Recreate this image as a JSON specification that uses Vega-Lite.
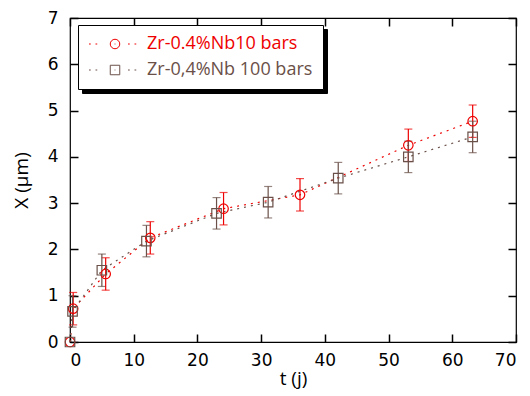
{
  "$schema": "https://vega.github.io/schema/vega-lite/v6.json",
  "width": 446,
  "height": 324,
  "autosize": {"type": "none"},
  "padding": {"left": 70, "top": 18, "right": 14, "bottom": 54},
  "background": "white",
  "config": {
    "view": {"stroke": "black", "strokeWidth": 1.2},
    "axis": {
      "grid": false,
      "domain": false,
      "ticks": true,
      "offset": -8,
      "tickColor": "black",
      "tickOpacity": 1,
      "tickSize": 8,
      "tickWidth": 1.5,
      "labelFont": "DejaVu Sans",
      "labelFontSize": 17,
      "labelColor": "black",
      "titleFont": "Open Sans",
      "titleFontSize": 19,
      "titleFontWeight": "normal",
      "titleColor": "black"
    }
  },
  "data": {
    "values": [
      {"series": "Zr-0.4%Nb10 bars", "k": "a", "g": "A", "t": 0, "x": 0, "lo": null, "hi": null},
      {"series": "Zr-0.4%Nb10 bars", "k": "a", "g": "A", "t": 0.5, "x": 0.72, "lo": 0.37, "hi": 1.07},
      {"series": "Zr-0.4%Nb10 bars", "k": "a", "g": "A", "t": 5.6, "x": 1.47, "lo": 1.12, "hi": 1.82},
      {"series": "Zr-0.4%Nb10 bars", "k": "a", "g": "A", "t": 12.6, "x": 2.25, "lo": 1.9, "hi": 2.6},
      {"series": "Zr-0.4%Nb10 bars", "k": "a", "g": "A", "t": 24.1, "x": 2.88, "lo": 2.53, "hi": 3.23},
      {"series": "Zr-0.4%Nb10 bars", "k": "a", "g": "A", "t": 36.1, "x": 3.18, "lo": 2.83, "hi": 3.53},
      {"series": "Zr-0.4%Nb10 bars", "k": "a", "g": "A", "t": 53.1, "x": 4.25, "lo": 3.9, "hi": 4.6},
      {"series": "Zr-0.4%Nb10 bars", "k": "a", "g": "A", "t": 63.2, "x": 4.77, "lo": 4.42, "hi": 5.12},
      {"series": "\u00a0Zr-0,4%Nb 100 bars", "k": "b", "g": "B", "t": 0, "x": 0, "lo": null, "hi": null},
      {"series": "\u00a0Zr-0,4%Nb 100 bars", "k": "b", "g": "B", "t": 0.4, "x": 0.66, "lo": 0.32, "hi": 1.0},
      {"series": "\u00a0Zr-0,4%Nb 100 bars", "k": "b", "g": "B", "t": 5.0, "x": 1.55, "lo": 1.2, "hi": 1.9},
      {"series": "\u00a0Zr-0,4%Nb 100 bars", "k": "b", "g": "B", "t": 12.0, "x": 2.18, "lo": 1.84, "hi": 2.52},
      {"series": "\u00a0Zr-0,4%Nb 100 bars", "k": "b", "g": "B", "t": 23.0, "x": 2.78, "lo": 2.44, "hi": 3.12},
      {"series": "\u00a0Zr-0,4%Nb 100 bars", "k": "b", "g": "B", "t": 31.1, "x": 3.02, "lo": 2.68, "hi": 3.36},
      {"series": "\u00a0Zr-0,4%Nb 100 bars", "k": "b", "g": "B", "t": 42.1, "x": 3.54, "lo": 3.2, "hi": 3.88},
      {"series": "\u00a0Zr-0,4%Nb 100 bars", "k": "b", "g": "B", "t": 53.1, "x": 4.0, "lo": 3.66, "hi": 4.34},
      {"series": "\u00a0Zr-0,4%Nb 100 bars", "k": "b", "g": "B", "t": 63.2, "x": 4.43, "lo": 4.09, "hi": 4.77}
    ]
  },
  "layer": [
    {
      "mark": {"type": "line", "strokeDash": [2, 5], "strokeWidth": 1.2},
      "encoding": {
        "x": {"field": "t", "type": "quantitative", "scale": {"domain": [0, 70], "nice": false},
          "axis": {"orient": "bottom", "values": [0, 10, 20, 30, 40, 50, 60, 70], "title": "t (j)", "labelPadding": 10, "titlePadding": 1}},
        "y": {"field": "x", "type": "quantitative", "scale": {"domain": [0, 7], "nice": false},
          "axis": {"orient": "left", "values": [0, 1, 2, 3, 4, 5, 6, 7], "title": "X (μm)", "labelPadding": 12, "titlePadding": 16}},
        "stroke": {"field": "g", "type": "nominal",
          "scale": {"domain": ["A", "B"], "range": ["#ee0000", "#6a5048"]},
          "legend": {
            "orient": "none", "legendX": 12, "legendY": 11, "title": null,
            "fillColor": "black", "strokeColor": "black", "padding": 10, "rowPadding": 8,
            "symbolSize": 100, "symbolOffset": 18, "labelOffset": 23, "labelLimit": 400,
            "labelFont": "Open Sans", "labelFontSize": 18, "labelColor": "black",
            "labelExpr": "datum.value == 'A' ? 'Zr-0.4%Nb10 bars' : '\u00a0Zr-0,4%Nb 100 bars'",
            "encode": {
              "symbols": {"update": {
                "shape": {"signal": "datum.value == 'A' ? 'M-5.2,0h0.35M-3.9,0h0.35M0.95,0A0.95,0.95,0,1,1,-0.95,0A0.95,0.95,0,1,1,0.95,0M2.6,0h0.35M3.9,0h0.35' : 'M-5.2,0h0.35M-3.9,0h0.35M-0.95,-0.95h1.9v1.9h-1.9ZM2.6,0h0.35M3.9,0h0.35'"},
                "stroke": {"value": "black"}, "fill": {"value": "transparent"}, "strokeWidth": {"value": 1}, "strokeDash": {"value": []}
              }}
            }
          }},
        "opacity": {"field": "k", "type": "nominal",
          "scale": {"domain": ["a", "b"], "range": [1, 1]},
          "legend": {
            "orient": "none", "legendX": 8, "legendY": 7, "title": null,
            "fillColor": "white", "strokeColor": "black", "padding": 10, "rowPadding": 8,
            "symbolSize": 100, "symbolOffset": 18, "labelOffset": 23, "labelLimit": 400,
            "labelFont": "Open Sans", "labelFontSize": 18,
            "labelExpr": "datum.value == 'a' ? 'Zr-0.4%Nb10 bars' : '\u00a0Zr-0,4%Nb 100 bars'",
            "encode": {
              "symbols": {"update": {
                "shape": {"signal": "datum.value == 'a' ? 'M-5.2,0h0.35M-3.9,0h0.35M0.95,0A0.95,0.95,0,1,1,-0.95,0A0.95,0.95,0,1,1,0.95,0M-0.08,0h0.16M2.6,0h0.35M3.9,0h0.35' : 'M-5.2,0h0.35M-3.9,0h0.35M-0.95,-0.95h1.9v1.9h-1.9ZM-0.08,0h0.16M2.6,0h0.35M3.9,0h0.35'"},
                "stroke": {"signal": "datum.value == 'a' ? '#ee0000' : '#6a5048'"},
                "fill": {"value": "transparent"}, "strokeWidth": {"value": 1}, "strokeDash": {"value": []}, "opacity": {"value": 1}
              }},
              "labels": {"update": {
                "fill": {"signal": "datum.value == 'a' ? '#ee0000' : '#6a5048'"}
              }}
            }
          }}
      }
    },
    {
      "transform": [{"filter": "datum.lo != null"}],
      "mark": {"type": "errorbar", "ticks": true, "size": 8, "thickness": 1.2},
      "encoding": {
        "x": {"field": "t", "type": "quantitative", "scale": {"domain": [0, 70], "nice": false}, "axis": null},
        "y": {"field": "lo", "type": "quantitative", "scale": {"domain": [0, 7], "nice": false}, "axis": null},
        "y2": {"field": "hi"},
        "color": {"field": "series", "type": "nominal", "legend": null,
          "scale": {"domain": ["Zr-0.4%Nb10 bars", "\u00a0Zr-0,4%Nb 100 bars"], "range": ["#ee0000", "#6a5048"]}}
      }
    },
    {
      "mark": {"type": "point", "filled": false, "size": 90, "strokeWidth": 1.2, "opacity": 1},
      "encoding": {
        "x": {"field": "t", "type": "quantitative", "scale": {"domain": [0, 70], "nice": false},
          "axis": {"orient": "top", "values": [0, 10, 20, 30, 40, 50, 60, 70], "labels": false, "title": null, "ticks": true, "tickSize": 8}},
        "y": {"field": "x", "type": "quantitative", "scale": {"domain": [0, 7], "nice": false},
          "axis": {"orient": "right", "values": [0, 1, 2, 3, 4, 5, 6, 7], "labels": false, "title": null, "ticks": true, "tickSize": 8}},
        "color": {"field": "series", "type": "nominal", "legend": null},
        "shape": {"field": "series", "type": "nominal", "legend": null,
          "scale": {"domain": ["Zr-0.4%Nb10 bars", "\u00a0Zr-0,4%Nb 100 bars"], "range": ["circle", "square"]}}
      }
    }
  ],
  "resolve": {"axis": {"x": "independent", "y": "independent"}}
}
